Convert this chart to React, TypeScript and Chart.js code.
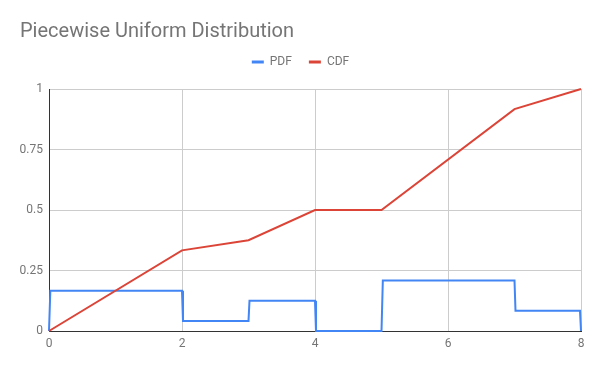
import React, { useEffect, useRef } from 'react';
import { Chart, registerables } from 'chart.js';

Chart.register(...registerables);

const titleText = 'Piecewise Uniform Distribution';
const seriesNames = ['PDF', 'CDF'];
const seriesColors = ['#4285f4', '#db4437'];

const pdfX = [0, 0.02, 2, 2.015, 3, 3.015, 4, 4.015, 5, 5.02, 7, 7.015, 7.985, 8];
const pdfY = [0, 0.1667, 0.1667, 0.0417, 0.0417, 0.125, 0.125, 0, 0, 0.2083, 0.2083, 0.0833, 0.0833, 0];

const cdfX = [0, 2, 3, 4, 5, 7, 8];
const cdfY = [0, 0.3333, 0.375, 0.5, 0.5, 0.9167, 1];

const xMin = 0;
const xMax = 8;
const xStep = 2;
const yMin = 0;
const yMax = 1;
const yStep = 0.25;

const GREY = '#757575';
const FONT = 'Roboto';

export default function App() {
  const ref = useRef<HTMLCanvasElement | null>(null);

  useEffect(() => {
    if (!ref.current) return;
    const toPts = (xs: number[], ys: number[]) => xs.map((x, i) => ({ x, y: ys[i] }));
    const chart = new Chart(ref.current, {
      type: 'line',
      data: {
        datasets: [
          {
            label: seriesNames[0],
            data: toPts(pdfX, pdfY),
            borderColor: seriesColors[0],
            backgroundColor: seriesColors[0],
            borderWidth: 2,
            pointRadius: 0,
            tension: 0,
            clip: false as any,
            order: 1,
          },
          {
            label: seriesNames[1],
            data: toPts(cdfX, cdfY),
            borderColor: seriesColors[1],
            backgroundColor: seriesColors[1],
            borderWidth: 2,
            pointRadius: 0,
            tension: 0,
            clip: false as any,
            order: 0,
          },
        ],
      },
      options: {
        animation: false,
        responsive: false,
        layout: { padding: { left: 20, right: 19, top: 0, bottom: 0 } },
        plugins: {
          tooltip: { enabled: false },
          title: {
            display: true,
            text: titleText,
            align: 'start',
            color: GREY,
            font: { family: FONT, size: 20, weight: 'normal', lineHeight: 0.7 },
            padding: { top: 25, bottom: 0 },
          },
          legend: {
            display: true,
            position: 'top',
            align: 'center',
            labels: {
              color: GREY,
              font: { family: FONT, size: 12 },
              boxWidth: 12,
              boxHeight: 3,
              padding: 17,
              generateLabels: (c: any) =>
                c.data.datasets.map((ds: any, i: number) => ({
                  text: ds.label,
                  fillStyle: ds.borderColor,
                  strokeStyle: ds.borderColor,
                  lineWidth: 0,
                  fontColor: GREY,
                  hidden: false,
                  datasetIndex: i,
                })),
            },
          },
          subtitle: {
            display: true,
            text: '',
            weight: 0 as any,
            font: { family: FONT, size: 1, lineHeight: 1 },
            padding: { top: 10, bottom: 0 },
          } as any,
        },
        scales: {
          x: {
            type: 'linear',
            min: xMin,
            max: xMax,
            ticks: {
              stepSize: xStep,
              color: GREY,
              font: { family: FONT, size: 12 },
              padding: 6,
              maxRotation: 0,
              callback: (v: any) => String(v),
            },
            grid: {
              color: (ctx: any) => (ctx.tick && ctx.tick.value === xMin ? 'rgba(0,0,0,0)' : '#cccccc'),
              drawTicks: false,
            },
            border: { color: '#333333', width: 1 },
            afterFit: (s: any) => {
              s.height = 40;
            },
          },
          y: {
            type: 'linear',
            min: yMin,
            max: yMax,
            ticks: {
              stepSize: yStep,
              color: GREY,
              font: { family: FONT, size: 12 },
              padding: 6,
              callback: (v: any) => String(v),
            },
            grid: {
              color: (ctx: any) => (ctx.tick && ctx.tick.value === yMin ? 'rgba(0,0,0,0)' : '#cccccc'),
              drawTicks: false,
            },
            border: { color: '#333333', width: 1 },
            afterFit: (s: any) => {
              s.width = 29;
            },
          },
        },
      },
    });
    return () => chart.destroy();
  }, []);

  return (
    <div style={{ position: 'absolute', left: 0, top: 0, width: 600, height: 371 }}>
      <canvas ref={ref} width={600} height={371} style={{ display: 'block' }} />
    </div>
  );
}
